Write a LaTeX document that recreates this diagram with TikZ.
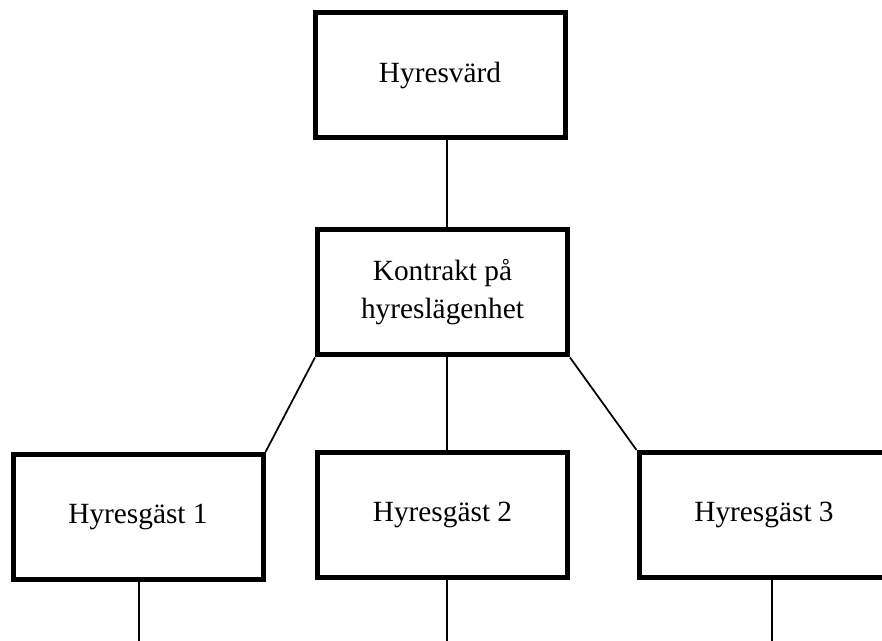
\documentclass[tikz,border=0pt]{standalone}
\usepackage{fontspec}
\setmainfont{Liberation Serif}
\begin{document}
\begin{tikzpicture}[x=0.75pt,y=-0.75pt]
       \tikzstyle{partbox}=[draw, line width=3.75pt, minimum width=187.5pt, minimum height=93.75pt, align=center, font=\fontsize{22}{28.5}\selectfont]
       \tikzstyle{link}=[draw, line width=1.3pt]
       \useasboundingbox (0,0) rectangle (882,641);
       \clip (0,0) rectangle (882,641);
       \node[partbox] (hyresvard) at (440,75) {Hyresvärd};
       \node[partbox] (kontrakt) at (442.5,292.5) {Kontrakt på\\hyreslägenhet};
       \node[partbox] (gast1) at (138,517) {Hyresgäst 1};
       \node[partbox] (gast2) at (442.5,515) {Hyresgäst 2};
       \node[partbox] (gast3) at (764,515) {Hyresgäst 3};
       \coordinate (ut1) at (139,645);
       \coordinate (ut2) at (447,645);
       \coordinate (ut3) at (772,645);
       \path[link] (hyresvard.south -| ut2) -- (kontrakt.north -| ut2);
       \path[link] (kontrakt.south west) -- (gast1.north east);
       \path[link] (kontrakt.south -| ut2) -- (gast2.north -| ut2);
       \path[link] (kontrakt.south east) -- (gast3.north west);
       \path[link] (gast1.south -| ut1) -- (ut1);
       \path[link] (gast2.south -| ut2) -- (ut2);
       \path[link] (gast3.south -| ut3) -- (ut3);
\end{tikzpicture}
\end{document}
